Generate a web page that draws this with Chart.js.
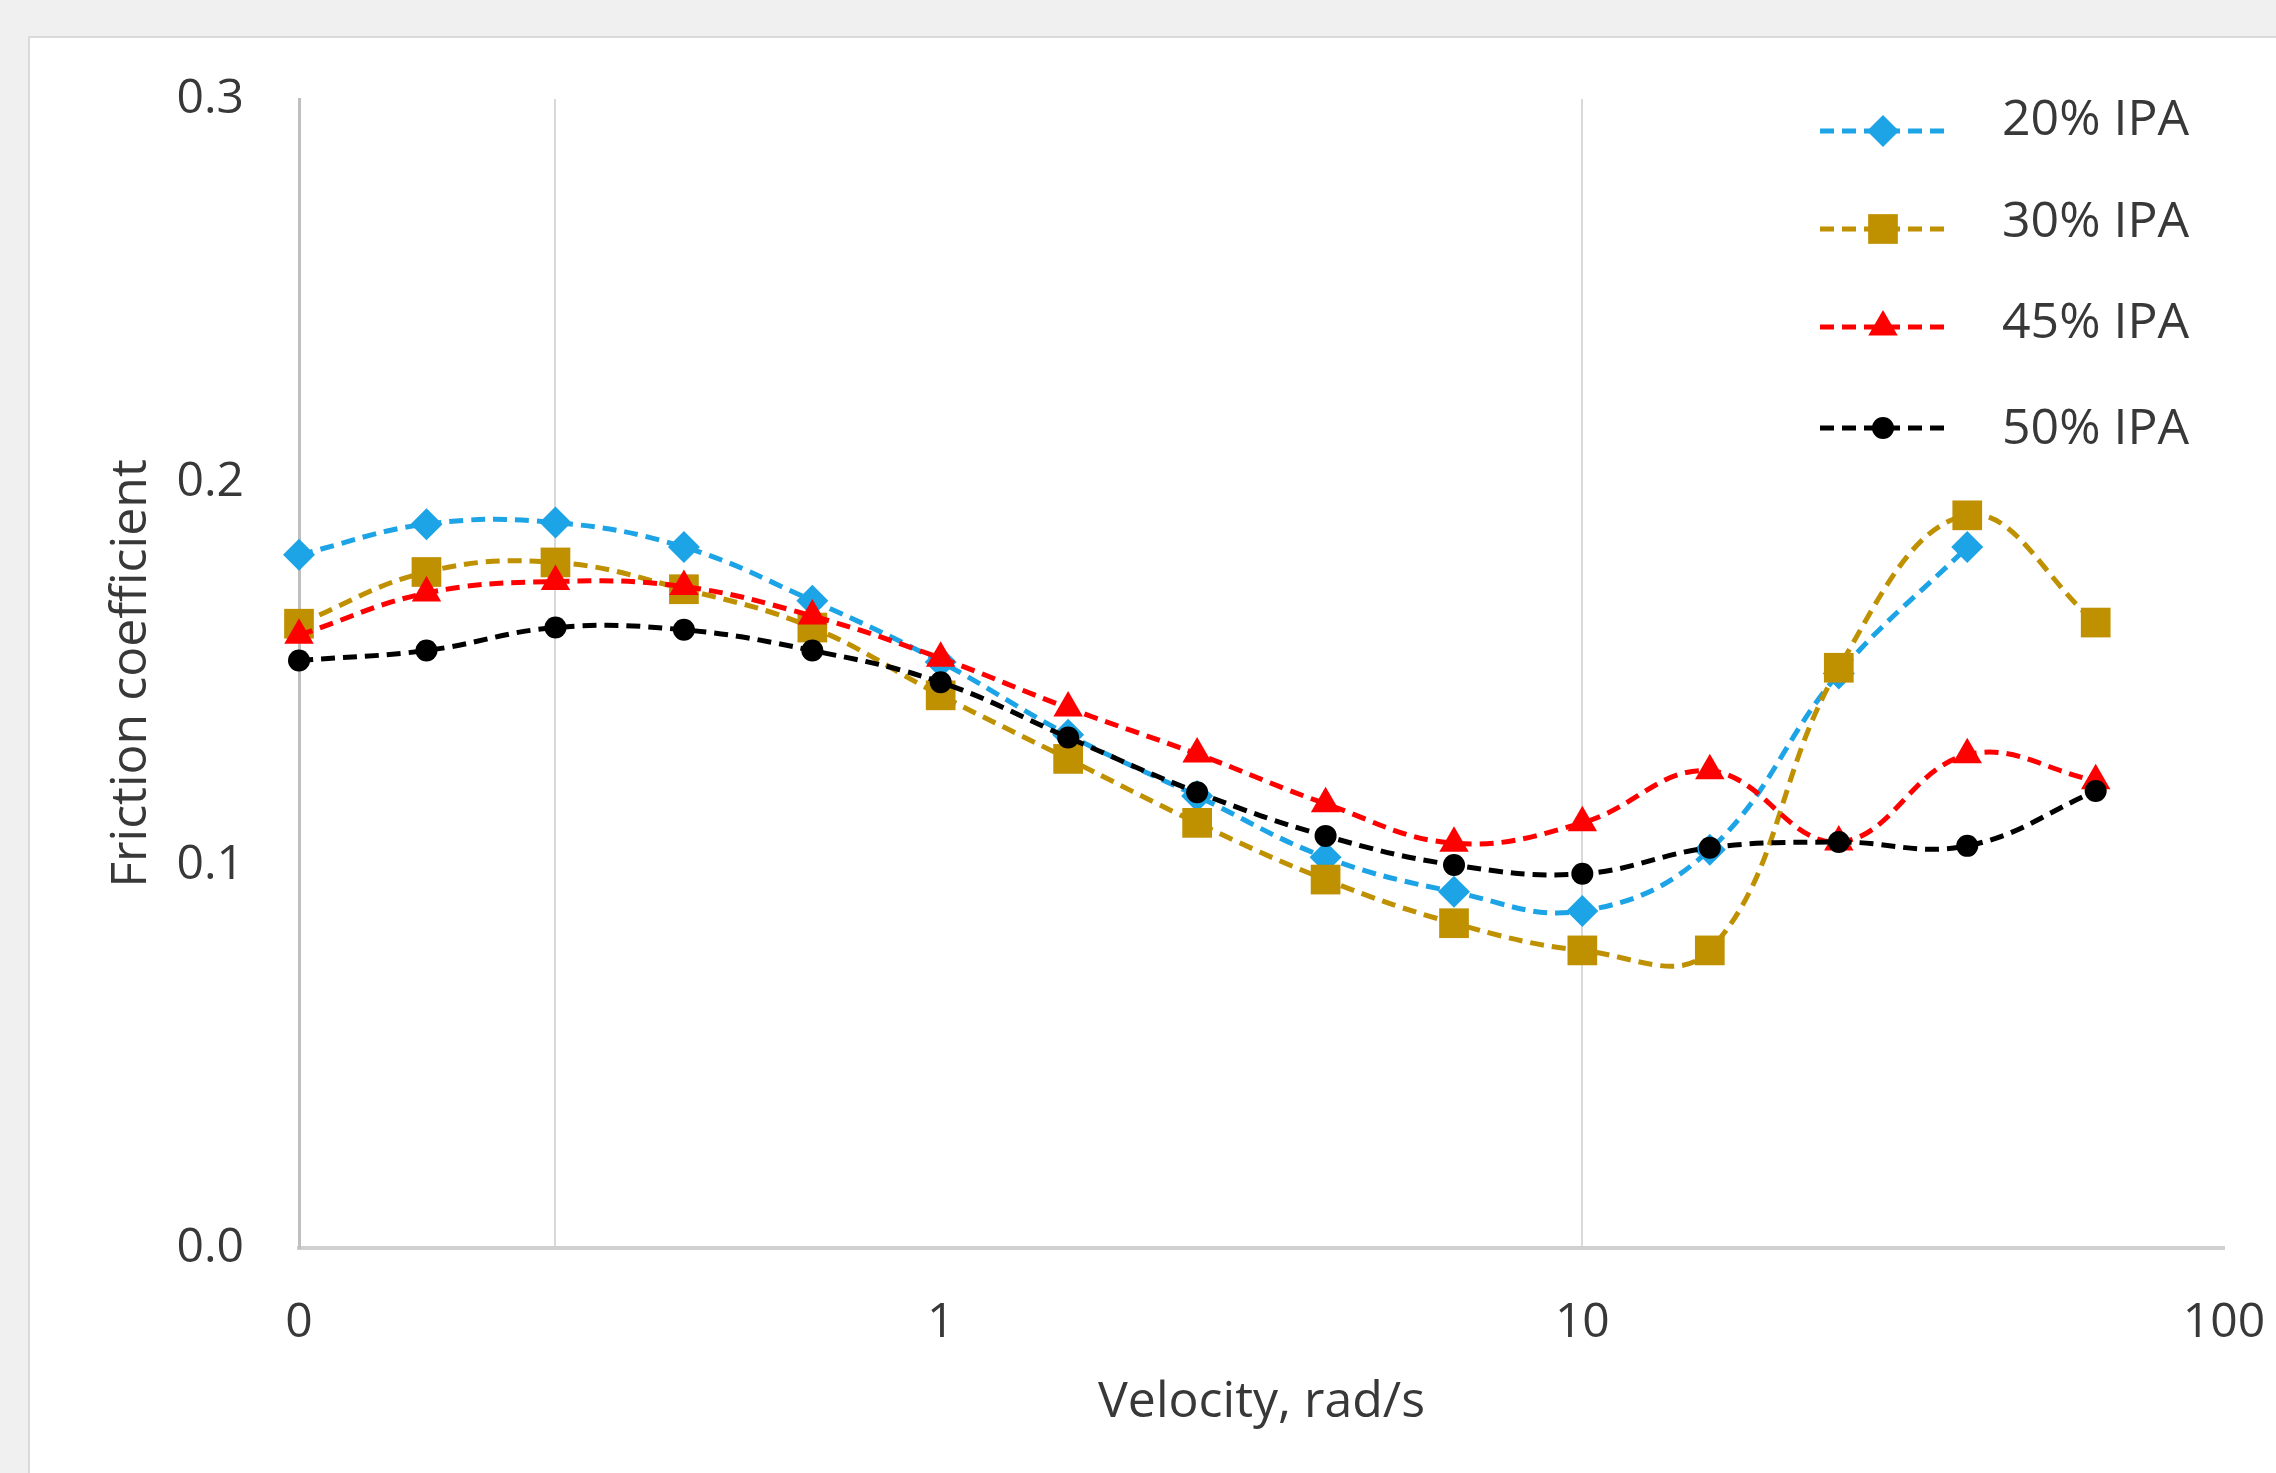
<!DOCTYPE html>
<html><head><meta charset="utf-8">
<script src="https://cdn.jsdelivr.net/npm/chart.js@4.4.1/dist/chart.umd.min.js"></script>
<style>
html,body{margin:0;padding:0;background:#f0f0f0;width:2276px;height:1473px;overflow:hidden}
#panel{position:absolute;left:28px;top:36px;right:0;bottom:0;background:#fff;border-left:2px solid #dadada;border-top:2px solid #dadada;}
#wrap{position:absolute;left:0;top:0;width:2276px;height:1473px}
</style></head><body>
<div id="panel"></div>
<div id="wrap"><canvas id="c" width="2276" height="1473"></canvas></div>
<script>
// ---- data ----
const velocity = [0.1, 0.158, 0.251, 0.398, 0.631, 1, 1.58, 2.51, 3.98, 6.31, 10, 15.8, 25.1, 39.8, 63.1];
const seriesNames = ["20% IPA", "30% IPA", "45% IPA", "50% IPA"];
const ipa20 = [0.181, 0.189, 0.1894, 0.183, 0.169, 0.153, 0.134, 0.118, 0.102, 0.093, 0.088, 0.104, 0.150, 0.183, null];
const ipa30 = [0.163, 0.1765, 0.179, 0.172, 0.162, 0.1443, 0.1277, 0.111, 0.0962, 0.0848, 0.0777, 0.0777, 0.1515, 0.1913, 0.1633];
const ipa45 = [0.160, 0.171, 0.174, 0.1727, 0.165, 0.154, 0.141, 0.129, 0.116, 0.1057, 0.111, 0.1246, 0.106, 0.1288, 0.122];
const ipa50 = [0.1534, 0.156, 0.162, 0.1614, 0.156, 0.1477, 0.1333, 0.119, 0.1076, 0.100, 0.0977, 0.1045, 0.106, 0.105, 0.1193];
const xTickValues = [0.1, 0.251, 1, 10, 100];
const xTickLabels = ["0", "", "1", "10", "100"];
const xGridAt = [0.251, 10];
const yTickValues = [0, 0.1, 0.2, 0.3];

const FONT = "'Open Sans', 'DejaVu Sans', sans-serif";
const TXT = '#383838';

const styles = [
  {color:'#1ca4e6', point:'rectRot', r:16},
  {color:'#bf9000', point:'rect', r:21},
  {color:'#ff0000', point:'triangle', r:17},
  {color:'#000000', point:'circle', r:11}
];
const allSeries = [ipa20, ipa30, ipa45, ipa50];

const datasets = allSeries.map((vals, i) => ({
  label: seriesNames[i],
  data: velocity.map((v, k) => ({x: v, y: vals[k]})),
  borderColor: styles[i].color,
  backgroundColor: styles[i].color,
  borderWidth: 5,
  borderDash: [14, 8],
  tension: 0.4,
  pointStyle: styles[i].point,
  pointRadius: styles[i].r,
  pointBorderWidth: 0,
  pointBackgroundColor: styles[i].color,
  pointBorderColor: styles[i].color,
  spanGaps: false,
  order: 4 - i,
  clip: false
}));

function drawMarker(ctx, style, x, y, r, color) {
  ctx.save();
  ctx.fillStyle = color;
  ctx.beginPath();
  if (style === 'rectRot') {
    ctx.moveTo(x, y - r); ctx.lineTo(x + r, y); ctx.lineTo(x, y + r); ctx.lineTo(x - r, y);
  } else if (style === 'rect') {
    const s = Math.SQRT1_2 * r;
    ctx.rect(x - s, y - s, 2 * s, 2 * s);
  } else if (style === 'triangle') {
    ctx.moveTo(x, y - r); ctx.lineTo(x + r * Math.sin(Math.PI/3), y + r * 0.5); ctx.lineTo(x - r * Math.sin(Math.PI/3), y + r * 0.5);
  } else {
    ctx.arc(x, y, r, 0, Math.PI * 2);
  }
  ctx.closePath();
  ctx.fill();
  ctx.restore();
}

const legendPlugin = {
  id: 'sideLegend',
  afterDraw(chart) {
    const ctx = chart.ctx;
    const x0 = 1820, x1 = 1946, tx = 2002;
    const lineYs = [131, 229, 327, 428];
    const textYs = [121, 223, 324, 430];
    chart.data.datasets.forEach((ds, i) => {
      const st = styles[i];
      ctx.save();
      ctx.strokeStyle = st.color;
      ctx.lineWidth = 5;
      ctx.setLineDash([14, 8]);
      ctx.beginPath();
      ctx.moveTo(x0, lineYs[i]); ctx.lineTo(x1, lineYs[i]);
      ctx.stroke();
      ctx.restore();
      drawMarker(ctx, st.point, (x0 + x1) / 2, lineYs[i], st.r, st.color);
      ctx.save();
      ctx.fillStyle = TXT;
      ctx.font = "50px " + FONT;
      ctx.textBaseline = 'middle';
      ctx.textAlign = 'left';
      ctx.fillText(ds.label, tx, textYs[i]);
      ctx.restore();
    });
  }
};

new Chart(document.getElementById('c'), {
  type: 'line',
  data: { datasets },
  plugins: [legendPlugin],
  options: {
    responsive: false,
    animation: false,
    layout: { padding: { left: 0, top: 99, right: 52, bottom: 0 } },
    plugins: { legend: { display: false }, tooltip: { enabled: false } },
    scales: {
      x: {
        type: 'logarithmic',
        position: 'bottom',
        min: 0.1, max: 100,
        afterFit: s => { s.height = 225; s.paddingRight = 0; s.paddingLeft = 0; },
        afterBuildTicks: s => { s.ticks = xTickValues.map(v => ({ value: v })); },
        ticks: {
          autoSkip: false, maxRotation: 0, padding: 47,
          color: TXT, font: { family: FONT, size: 48 },
          callback: (v, i) => xTickLabels[i]
        },
        grid: {
          drawTicks: false, lineWidth: 2,
          color: c => (c.tick && xGridAt.includes(c.tick.value)) ? '#d9d9d9' : 'rgba(0,0,0,0)'
        },
        border: { display: true, color: '#d0d0d0', width: 4 },
        title: {
          display: true, text: 'Velocity, rad/s', color: TXT,
          font: { family: FONT, size: 50 }, padding: { top: 0, bottom: 40 }
        }
      },
      y: {
        min: 0, max: 0.3,
        afterFit: s => { s.width = 299; s.paddingTop = 0; s.paddingBottom = 0; },
        afterBuildTicks: s => { s.ticks = yTickValues.map(v => ({ value: v })); },
        ticks: {
          padding: 55, color: TXT, font: { family: FONT, size: 48 },
          callback: v => Number(v).toFixed(1)
        },
        grid: { display: false, drawTicks: false },
        border: { display: true, color: '#bfbfbf', width: 3 },
        title: {
          display: true, text: 'Friction coefficient', color: TXT,
          font: { family: FONT, size: 50 }, padding: { top: 102, bottom: 0 }
        }
      }
    }
  }
});
</script>
</body></html>
